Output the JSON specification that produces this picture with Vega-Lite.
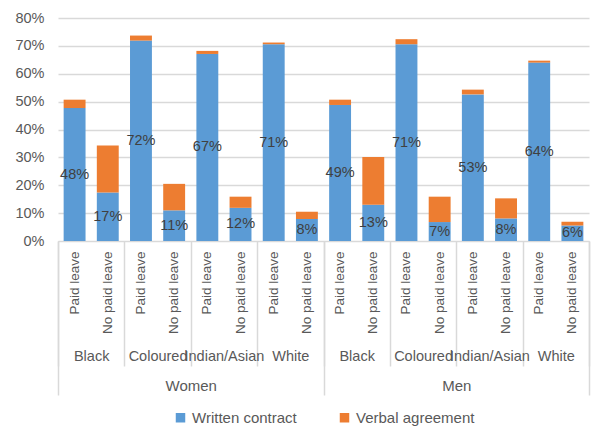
{
  "$schema": "https://vega.github.io/schema/vega-lite/v6.json",
  "width": 531,
  "height": 223,
  "padding": {"left": 14, "top": 10, "right": 15, "bottom": 5},
  "background": "white",
  "config": {
    "view": {"stroke": null},
    "font": "Liberation Sans",
    "legend": {"layout": {"bottom": {"anchor": "middle"}}}
  },
  "datasets": {
    "bars": [
      {"gender": "Women", "grp": "Women|Black", "key": "Women|Black|Paid leave", "type": "Written contract", "value": 0.477},
      {"gender": "Women", "grp": "Women|Black", "key": "Women|Black|Paid leave", "type": "Verbal agreement", "value": 0.030},
      {"gender": "Women", "grp": "Women|Black", "key": "Women|Black|No paid leave", "type": "Written contract", "value": 0.174},
      {"gender": "Women", "grp": "Women|Black", "key": "Women|Black|No paid leave", "type": "Verbal agreement", "value": 0.169},
      {"gender": "Women", "grp": "Women|Coloured", "key": "Women|Coloured|Paid leave", "type": "Written contract", "value": 0.719},
      {"gender": "Women", "grp": "Women|Coloured", "key": "Women|Coloured|Paid leave", "type": "Verbal agreement", "value": 0.018},
      {"gender": "Women", "grp": "Women|Coloured", "key": "Women|Coloured|No paid leave", "type": "Written contract", "value": 0.110},
      {"gender": "Women", "grp": "Women|Coloured", "key": "Women|Coloured|No paid leave", "type": "Verbal agreement", "value": 0.095},
      {"gender": "Women", "grp": "Women|Indian/Asian", "key": "Women|Indian/Asian|Paid leave", "type": "Written contract", "value": 0.671},
      {"gender": "Women", "grp": "Women|Indian/Asian", "key": "Women|Indian/Asian|Paid leave", "type": "Verbal agreement", "value": 0.011},
      {"gender": "Women", "grp": "Women|Indian/Asian", "key": "Women|Indian/Asian|No paid leave", "type": "Written contract", "value": 0.119},
      {"gender": "Women", "grp": "Women|Indian/Asian", "key": "Women|Indian/Asian|No paid leave", "type": "Verbal agreement", "value": 0.040},
      {"gender": "Women", "grp": "Women|White", "key": "Women|White|Paid leave", "type": "Written contract", "value": 0.706},
      {"gender": "Women", "grp": "Women|White", "key": "Women|White|Paid leave", "type": "Verbal agreement", "value": 0.006},
      {"gender": "Women", "grp": "Women|White", "key": "Women|White|No paid leave", "type": "Written contract", "value": 0.079},
      {"gender": "Women", "grp": "Women|White", "key": "Women|White|No paid leave", "type": "Verbal agreement", "value": 0.026},
      {"gender": "Men", "grp": "Men|Black", "key": "Men|Black|Paid leave", "type": "Written contract", "value": 0.488},
      {"gender": "Men", "grp": "Men|Black", "key": "Men|Black|Paid leave", "type": "Verbal agreement", "value": 0.019},
      {"gender": "Men", "grp": "Men|Black", "key": "Men|Black|No paid leave", "type": "Written contract", "value": 0.130},
      {"gender": "Men", "grp": "Men|Black", "key": "Men|Black|No paid leave", "type": "Verbal agreement", "value": 0.171},
      {"gender": "Men", "grp": "Men|Coloured", "key": "Men|Coloured|Paid leave", "type": "Written contract", "value": 0.706},
      {"gender": "Men", "grp": "Men|Coloured", "key": "Men|Coloured|Paid leave", "type": "Verbal agreement", "value": 0.018},
      {"gender": "Men", "grp": "Men|Coloured", "key": "Men|Coloured|No paid leave", "type": "Written contract", "value": 0.068},
      {"gender": "Men", "grp": "Men|Coloured", "key": "Men|Coloured|No paid leave", "type": "Verbal agreement", "value": 0.091},
      {"gender": "Men", "grp": "Men|Indian/Asian", "key": "Men|Indian/Asian|Paid leave", "type": "Written contract", "value": 0.526},
      {"gender": "Men", "grp": "Men|Indian/Asian", "key": "Men|Indian/Asian|Paid leave", "type": "Verbal agreement", "value": 0.017},
      {"gender": "Men", "grp": "Men|Indian/Asian", "key": "Men|Indian/Asian|No paid leave", "type": "Written contract", "value": 0.081},
      {"gender": "Men", "grp": "Men|Indian/Asian", "key": "Men|Indian/Asian|No paid leave", "type": "Verbal agreement", "value": 0.072},
      {"gender": "Men", "grp": "Men|White", "key": "Men|White|Paid leave", "type": "Written contract", "value": 0.640},
      {"gender": "Men", "grp": "Men|White", "key": "Men|White|Paid leave", "type": "Verbal agreement", "value": 0.007},
      {"gender": "Men", "grp": "Men|White", "key": "Men|White|No paid leave", "type": "Written contract", "value": 0.056},
      {"gender": "Men", "grp": "Men|White", "key": "Men|White|No paid leave", "type": "Verbal agreement", "value": 0.013}
    ]
  },
  "layer": [
    {
      "data": {"name": "bars"},
      "mark": {"type": "bar", "width": {"band": 0.66}},
      "encoding": {
        "x": {
          "field": "key", "type": "nominal", "sort": null,
          "scale": {"paddingInner": 0, "paddingOuter": 0},
          "axis": {
            "orient": "bottom", "title": null, "grid": false,
            "domain": true, "domainColor": "#d9d9d9", "ticks": false,
            "labelAngle": -90, "labelPadding": 10, "labelFontSize": 13.5,
            "labelColor": "#595959",
            "labelExpr": "split(datum.label, '|')[2]"
          }
        },
        "y": {
          "field": "value", "type": "quantitative", "stack": "zero",
          "scale": {"domain": [0, 0.8]},
          "axis": {
            "title": null, "values": [0, 0.1, 0.2, 0.3, 0.4, 0.5, 0.6, 0.7, 0.8],
            "format": ".0%", "grid": true, "gridColor": "#d9d9d9", "gridWidth": 1.5,
            "domain": false, "ticks": false, "labelPadding": 14,
            "labelFontSize": 14.5, "labelColor": "#595959"
          }
        },
        "color": {
          "field": "type", "type": "nominal",
          "scale": {"domain": ["Written contract", "Verbal agreement"], "range": ["#5b9bd5", "#ed7d31"]},
          "legend": {
            "orient": "bottom", "direction": "horizontal", "title": null,
            "symbolType": "square", "symbolSize": 90, "labelFontSize": 15,
            "labelColor": "#595959", "columnPadding": 40, "offset": 14
          }
        },
        "order": {"field": "type", "sort": "descending"}
      }
    },
    {
      "data": {"name": "bars"},
      "transform": [{"filter": {"field": "type", "equal": "Written contract"}}],
      "mark": {"type": "text", "fontSize": 14.5, "color": "#404040"},
      "encoding": {
        "x": {"field": "key", "type": "nominal", "sort": null, "scale": {"paddingInner": 0, "paddingOuter": 0}, "axis": null},
        "y": {"field": "value", "type": "quantitative", "scale": {"domain": [0, 1.6]}, "axis": null},
        "text": {"field": "value", "type": "quantitative", "format": ".0%"}
      }
    },
    {
      "data": {"name": "bars"},
      "mark": {"type": "text", "text": ""},
      "encoding": {
        "x": {
          "field": "grp", "type": "nominal", "sort": null,
          "scale": {"paddingInner": 0, "paddingOuter": 0},
          "axis": {
            "orient": "bottom", "title": null, "grid": false, "domain": false,
            "ticks": true, "tickBand": "extent", "tickSize": 125, "tickColor": "#d9d9d9", "tickWidth": 1.5,
            "labelPadding": -17, "labelAngle": 0, "labelFontSize": 14.5, "labelColor": "#595959",
            "labelOverlap": false, "labelBound": false,
            "labelExpr": "split(datum.label, '|')[1]"
          }
        }
      }
    },
    {
      "data": {"name": "bars"},
      "mark": {"type": "text", "text": ""},
      "encoding": {
        "x": {
          "field": "gender", "type": "nominal", "sort": null,
          "scale": {"paddingInner": 0, "paddingOuter": 0},
          "axis": {
            "orient": "bottom", "title": null, "grid": false, "domain": false,
            "ticks": true, "tickBand": "extent", "tickSize": 154, "tickColor": "#d9d9d9", "tickWidth": 1.5,
            "labelPadding": -17, "labelAngle": 0, "labelFontSize": 15, "labelColor": "#595959",
            "labelOverlap": false, "labelBound": false
          }
        }
      }
    }
  ],
  "resolve": {
    "scale": {"x": "independent", "y": "independent"},
    "axis": {"x": "independent", "y": "independent"}
  }
}
